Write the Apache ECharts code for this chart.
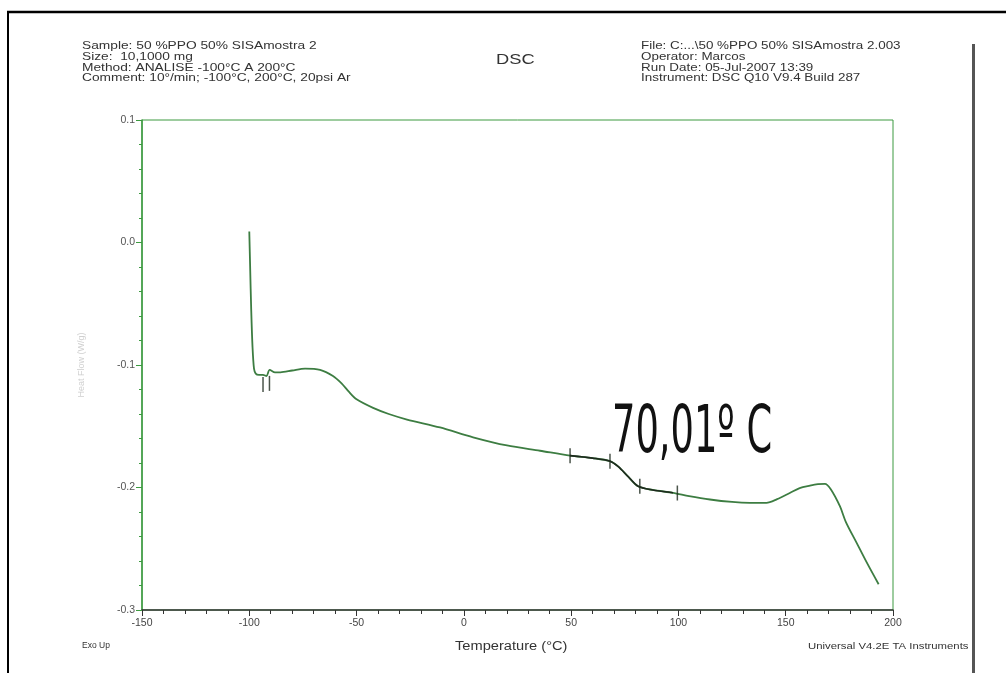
<!DOCTYPE html>
<html lang="pt">
<head>
    <meta charset="UTF-8">
    <title>DSC</title>
    <script src="https://cdn.jsdelivr.net/npm/echarts@6/dist/echarts.min.js"></script>
    <style>
        html, body { margin: 0; padding: 0; background: #fff; }
    </style>
</head>
<body>
<div id="main" style="width: 1006px;height:673px;"></div>
<script type="text/javascript">
    var temp = [-100, -99.6, -99.1, -98.5, -97.8, -97.0, -95.5, -93.6, -92.0, -90.5, -88.0, -85.5,
        -80.0, -74.0, -67.0, -61.0, -57.0, -53.5, -50.0, -42.3, -35.0, -26.5, -11.1, 4.3, 20.1,
        35.5, 49.5, 60.0, 68.1, 72.0, 76.5, 81.2, 88.0, 97.5, 105.0, 114.7, 125.0, 133.3, 141.0,
        146.0, 151.9, 156.5, 161.3, 165.0, 168.3, 171.0, 175.3, 178.0, 183.0, 188.0, 193.3];
    var heatFlow = [0.009, -0.02, -0.055, -0.085, -0.103, -0.107, -0.108, -0.108, -0.109, -0.104, -0.106, -0.106,
        -0.1045, -0.103, -0.104, -0.109, -0.115, -0.122, -0.128, -0.135, -0.140, -0.1445, -0.151, -0.159, -0.1657,
        -0.170, -0.174, -0.176, -0.1785, -0.183, -0.191, -0.199, -0.202, -0.2043, -0.207, -0.2098, -0.2118, -0.2125, -0.2125,
        -0.2095, -0.2045, -0.2005, -0.1985, -0.1973, -0.197, -0.2015, -0.2155, -0.228, -0.245, -0.262, -0.279];

    // marcas de análise sobre a curva
    var markTemp = [-93.6, -90.6, 49.5, 68.1, 82.0, 99.5];
    var markFlow = [-0.116, -0.115, -0.174, -0.1785, -0.199, -0.2045];

    var headerLeft = ["Sample: 50 %PPO 50% SISAmostra 2", "Size:  10,1000 mg",
        "Method: ANALISE -100°C A 200°C", "Comment: 10°/min; -100°C, 200°C, 20psi Ar"];
    var headerRight = ["File: C:...\\50 %PPO 50% SISAmostra 2.003", "Operator: Marcos",
        "Run Date: 05-Jul-2007 13:39", "Instrument: DSC Q10 V9.4 Build 287"];
    var annotation = "70,01º C";

    var curve = temp.map(function (t, i) { return [t, heatFlow[i]]; });
    var overlay = curve.filter(function (p) { return p[0] >= 49 && p[0] <= 100; });
    var marks = markTemp.map(function (t, i) { return [t, markFlow[i]]; });

    var green = "#3c9a40";
    var font = "Liberation Sans, Arial, sans-serif";
    var myChart = echarts.init(document.getElementById("main"));

    var option = {
        backgroundColor: "#fff",
        animation: false,
        textStyle: { fontFamily: font },
        grid: {
            left: 142, top: 120, width: 751, height: 490,
            show: true, borderColor: green, borderWidth: 1
        },
        xAxis: {
            type: "value",
            min: -150, max: 200, interval: 50,
            axisLine: { onZero: false, lineStyle: { color: "#333", width: 1.5 } },
            axisTick: { length: 6, lineStyle: { color: "#333" } },
            minorTick: { show: true, splitNumber: 5, length: 4, lineStyle: { color: "#333" } },
            splitLine: { show: false },
            axisLabel: { color: "#444", fontSize: 10.5, margin: 8 }
        },
        yAxis: {
            type: "value",
            min: -0.3, max: 0.1, interval: 0.1,
            name: "Heat Flow (W/g)",
            nameLocation: "middle",
            nameGap: 56,
            nameTextStyle: { color: "#d0d0d0", fontSize: 9 },
            axisLine: { onZero: false, lineStyle: { color: green, width: 1.5 } },
            axisTick: { length: 6, lineStyle: { color: green } },
            minorTick: { show: true, splitNumber: 5, length: 3, lineStyle: { color: green } },
            splitLine: { show: false },
            axisLabel: {
                color: "#555", fontSize: 10.5, margin: 7,
                formatter: function (v) { return v.toFixed(1); }
            }
        },
        series: [
            {
                name: "Heat Flow",
                type: "line",
                data: curve,
                showSymbol: false,
                smooth: 0.3,
                lineStyle: { color: "#3d7d42", width: 1.8 },
                z: 3
            },
            {
                name: "Tg",
                type: "line",
                data: overlay,
                showSymbol: false,
                smooth: 0.3,
                lineStyle: { color: "#1e2a1e", width: 1.6 },
                z: 4
            },
            {
                name: "marcas",
                type: "scatter",
                data: marks,
                symbol: "rect",
                symbolSize: [1.5, 15],
                itemStyle: { color: "#1e2a1e" },
                z: 5
            }
        ],
        graphic: [
            // moldura
            { type: "line", shape: { x1: 7, y1: 12, x2: 1006, y2: 12 }, style: { stroke: "#000", lineWidth: 2.5 } },
            { type: "line", shape: { x1: 8, y1: 12, x2: 8, y2: 673 }, style: { stroke: "#000", lineWidth: 2 } },
            { type: "line", shape: { x1: 973.5, y1: 44, x2: 973.5, y2: 673 }, style: { stroke: "#555", lineWidth: 3 } },
            // cabeçalho (a imagem original está esticada na horizontal)
            {
                type: "text", x: 82, y: 41, scaleX: 1.25,
                style: { text: headerLeft.join("\n"), fill: "#333", fontSize: 11, lineHeight: 10.6, fontFamily: font }
            },
            {
                type: "text", x: 641, y: 41, scaleX: 1.22,
                style: { text: headerRight.join("\n"), fill: "#333", fontSize: 11, lineHeight: 10.6, fontFamily: font }
            },
            {
                type: "text", x: 496, y: 52, scaleX: 1.22,
                style: { text: "DSC", fill: "#333", fontSize: 15, fontFamily: font }
            },
            {
                type: "text", x: 82, y: 641,
                style: { text: "Exo Up", fill: "#333", fontSize: 8.5, fontFamily: font }
            },
            {
                type: "text", x: 455, y: 641, scaleX: 1.22,
                style: { text: "Temperature (°C)", fill: "#333", fontSize: 12, fontFamily: font }
            },
            {
                type: "text", x: 808, y: 642, scaleX: 1.26,
                style: { text: "Universal V4.2E TA Instruments", fill: "#333", fontSize: 9, fontFamily: font }
            },
            {
                type: "text", x: 612, y: 402, scaleX: 0.62,
                style: { text: annotation, fill: "#111", fontSize: 66, fontFamily: "DejaVu Sans Condensed, DejaVu Sans", fontWeight: "normal" }
            }
        ]
    };

    myChart.setOption(option);
</script>
</body>
</html>
